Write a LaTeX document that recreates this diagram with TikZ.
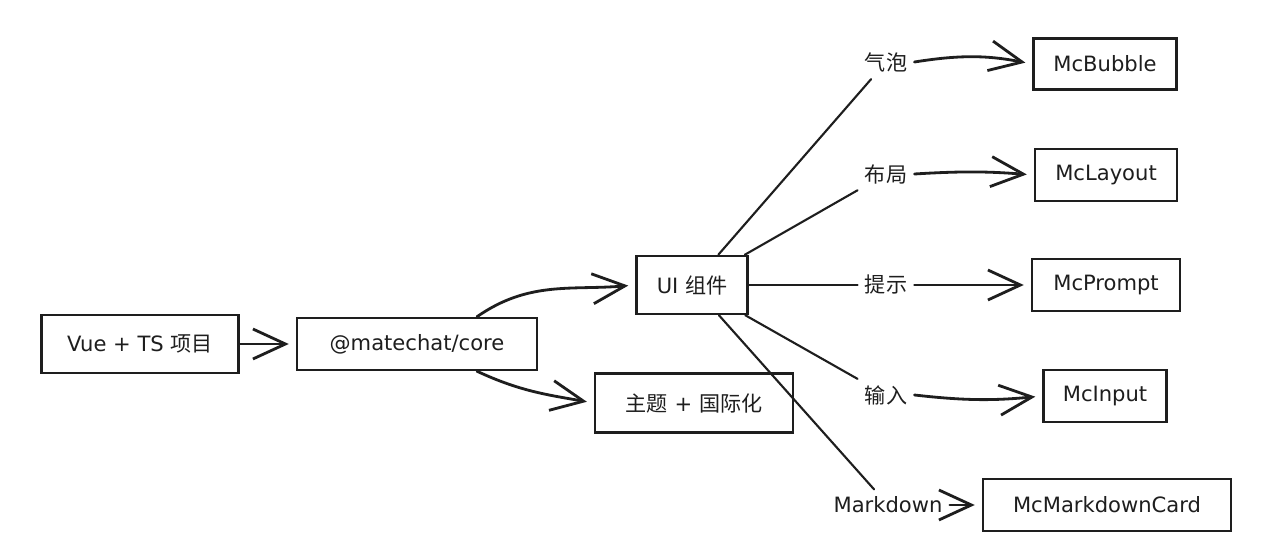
\documentclass[tikz,border=0pt]{standalone}
\usepackage{fontspec}
\setmainfont{DejaVu Sans}
\newfontfamily\cjk{Noto Sans CJK SC}
\usepackage{xcolor}
\usepackage{tikz}
\usetikzlibrary{arrows.meta}
\definecolor{inkBlack}{HTML}{1E1E1E}
\newcommand{\zh}[1]{{\cjk #1}}
\tikzset{
  modbox/.style={rectangle, draw=inkBlack, fill=white, line width=1.4pt, align=center, text=inkBlack, font=\fontsize{12}{14}\selectfont, inner sep=2pt},
  tagnode/.style={text=inkBlack, font=\fontsize{12}{14}\selectfont, inner sep=4pt},
  fanline/.style={line width=1.2pt, draw=inkBlack, line cap=round},
  sketcharrow/.style={-{Straight Barb[length=6.5mm,width=6mm]}, line width=1.6pt, draw=inkBlack, line cap=round, shorten >=4pt},
}
\begin{document}
\begin{tikzpicture}[x=0.02cm,y=0.02cm]
  \useasboundingbox (0,0) rectangle (1280,544);
  \node[modbox, minimum width=3.94cm, minimum height=1.16cm] (vue) at (140,200) {Vue + TS \zh{项目}};
  \node[modbox, minimum width=4.8cm, minimum height=1.04cm] (core) at (417,200) {@matechat/core};
  \node[modbox, minimum width=2.22cm, minimum height=1.16cm] (ui) at (692,259) {UI \zh{组件}};
  \node[modbox, minimum width=3.96cm, minimum height=1.18cm] (theme) at (694,141) {\zh{主题} + \zh{国际化}};

  \node[tagnode] (tagBubble) at (886,482) {\zh{气泡}};
  \node[tagnode] (tagLayout) at (886,370) {\zh{布局}};
  \node[tagnode] (tagPrompt) at (886,259) {\zh{提示}};
  \node[tagnode] (tagInput) at (886,149) {\zh{输入}};
  \node[tagnode] (tagMd) at (888,39) {Markdown};

  \node[modbox, minimum width=2.86cm, minimum height=1.02cm] (bubble) at (1105,480) {McBubble};
  \node[modbox, minimum width=2.84cm, minimum height=1.04cm] (layout) at (1106,369) {McLayout};
  \node[modbox, minimum width=2.96cm, minimum height=1.04cm] (prompt) at (1106,259) {McPrompt};
  \node[modbox, minimum width=2.46cm, minimum height=1.04cm] (input) at (1105,148) {McInput};
  \node[modbox, minimum width=4.96cm, minimum height=1.04cm] (mdcard) at (1107,39) {McMarkdownCard};

  \foreach \t in {tagBubble, tagLayout, tagPrompt, tagInput, tagMd} { \draw[fanline] (ui) -- (\t); }
  \foreach \a/\b in {vue/core, tagPrompt/prompt, tagMd/mdcard} { \draw[sketcharrow] (\a) -- (\b); }

  \draw[sketcharrow] ([xshift=1.2cm]core.north) to[out=35,in=185] (ui.west);
  \draw[sketcharrow] ([xshift=1.2cm]core.south) to[out=-25,in=170] (theme.west);
  \draw[sketcharrow] (tagBubble.east) to[bend left=10] (bubble.west);
  \draw[sketcharrow] (tagLayout.east) to[bend left=4] (layout.west);
  \draw[sketcharrow] (tagInput.east) to[bend right=6] (input.west);
\end{tikzpicture}
\end{document}
